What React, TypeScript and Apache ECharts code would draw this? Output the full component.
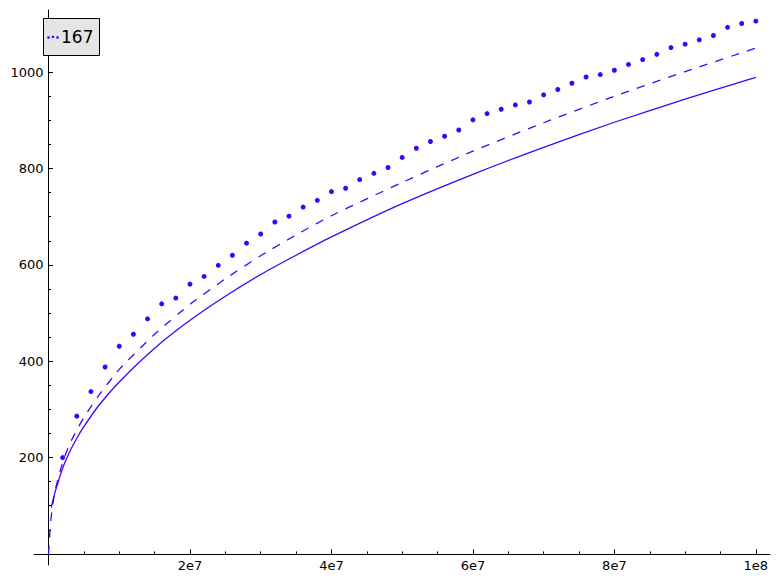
import React, { useEffect, useRef } from "react";
import * as echarts from "echarts";

// Dotted series (legend "167"): sampled every 2e6
const dotX = [
  2e6, 4e6, 6e6, 8e6, 10e6, 12e6, 14e6, 16e6, 18e6, 20e6,
  22e6, 24e6, 26e6, 28e6, 30e6, 32e6, 34e6, 36e6, 38e6, 40e6,
  42e6, 44e6, 46e6, 48e6, 50e6, 52e6, 54e6, 56e6, 58e6, 60e6,
  62e6, 64e6, 66e6, 68e6, 70e6, 72e6, 74e6, 76e6, 78e6, 80e6,
  82e6, 84e6, 86e6, 88e6, 90e6, 92e6, 94e6, 96e6, 98e6, 100e6,
];
const dotY = [
  200, 286, 337, 388, 431, 456, 488, 519, 531, 560,
  576, 599, 620, 645, 664, 689, 701, 720, 734, 752,
  759, 777, 790, 802, 823, 842, 856, 867, 880, 901,
  914, 923, 932, 938, 953, 964, 977, 990, 995, 1004,
  1016, 1026, 1037, 1051, 1058, 1067, 1076, 1093, 1101, 1106,
];

// Solid curve
const solidX = [4e5, 6e5, 1e6, 2e6, 3e6, 4e6, 5e6, 7e6, 1e7, 1.5e7, 2e7, 2.5e7, 3e7, 3.5e7, 4e7, 5e7, 6e7, 7e7, 8e7, 9e7, 1e8];
const solidY = [96, 110, 132, 178, 212, 240, 264, 306, 357, 427, 485, 535, 580, 620, 658, 727, 788, 844, 896, 944, 989];

// Dashed curve
const dashX = [0, 1e5, 3e5, 6e5, 1e6, 2e6, 3e6, 4e6, 5e6, 7e6, 1e7, 1.5e7, 2e7, 2.5e7, 3e7, 3.5e7, 4e7, 5e7, 6e7, 7e7, 8e7, 9e7, 1e8];
const dashY = [0, 22, 66, 102, 136, 190, 228, 257, 283, 327, 383, 456, 518, 571, 619, 662, 702, 771, 836, 895, 950, 1001, 1050];

// Ticks
const xMajor = [2e7, 4e7, 6e7, 8e7, 1e8];
const xMajorLabels = ["2e7", "4e7", "6e7", "8e7", "1e8"];
const xMinor = [5e6, 1e7, 1.5e7, 2.5e7, 3e7, 3.5e7, 4.5e7, 5e7, 5.5e7, 6.5e7, 7e7, 7.5e7, 8.5e7, 9e7, 9.5e7];
const yMajor = [200, 400, 600, 800, 1000];
const yMajorLabels = ["200", "400", "600", "800", "1000"];
const yMinor = [50, 100, 150, 250, 300, 350, 450, 500, 550, 650, 700, 750, 850, 900, 950, 1050, 1100];

const legendLabel = "167";
const COLOR = "#4400ff";
const FONT = "DejaVu Sans";

export default function App() {
  const ref = useRef<HTMLDivElement>(null);
  useEffect(() => {
    if (!ref.current) return;
    const chart = echarts.init(ref.current, null, { renderer: "svg" });
    const xMin = -2.05e6, xMax = 1.02e8, yMin = -23, yMax = 1129;
    const commonX = { type: "value", min: xMin, max: xMax, splitLine: { show: false } };
    const commonY = { type: "value", min: yMin, max: yMax, splitLine: { show: false } };
    chart.setOption({
      animation: false,
      backgroundColor: "#ffffff",
      grid: { left: 34, right: 11, top: 10, bottom: 19, containLabel: false, outerBoundsMode: "none" },
      xAxis: [
        {
          ...commonX,
          position: "bottom",
          axisLine: { show: true, onZero: true, onZeroAxisIndex: 0, lineStyle: { color: "#000", width: 1 } },
          axisTick: { show: true, inside: true, length: 4.5, customValues: xMajor, lineStyle: { color: "#000" } },
          axisLabel: {
            show: true, customValues: xMajor, margin: -6, color: "#000", fontSize: 13, fontFamily: FONT,
            formatter: (v: number) => xMajorLabels[xMajor.indexOf(v)] ?? "",
          },
        },
        {
          ...commonX,
          position: "bottom",
          axisLine: { show: false, onZero: true, onZeroAxisIndex: 0 },
          axisTick: { show: true, inside: true, length: 2.5, customValues: xMinor, lineStyle: { color: "#000" } },
          axisLabel: { show: false },
        },
      ],
      yAxis: [
        {
          ...commonY,
          position: "left",
          axisLine: { show: true, onZero: true, onZeroAxisIndex: 0, lineStyle: { color: "#000", width: 1 } },
          axisTick: { show: true, inside: true, length: 4.5, customValues: yMajor, lineStyle: { color: "#000" } },
          axisLabel: {
            show: true, customValues: yMajor, margin: -9.5, color: "#000", fontSize: 13, fontFamily: FONT,
            formatter: (v: number) => yMajorLabels[yMajor.indexOf(v)] ?? "",
          },
        },
        {
          ...commonY,
          position: "left",
          axisLine: { show: false, onZero: true, onZeroAxisIndex: 0 },
          axisTick: { show: true, inside: true, length: 2.5, customValues: yMinor, lineStyle: { color: "#000" } },
          axisLabel: { show: false },
        },
      ],
      series: [
        {
          type: "line",
          name: "solid",
          data: solidX.map((x, i) => [x, solidY[i]]),
          showSymbol: false,
          smooth: 0.2,
          lineStyle: { color: COLOR, width: 1.3 },
          itemStyle: { color: COLOR },
          z: 2,
        },
        {
          type: "line",
          name: "dashed",
          data: dashX.map((x, i) => [x, dashY[i]]),
          showSymbol: false,
          smooth: 0.2,
          lineStyle: { color: COLOR, width: 1.3, type: [8.3, 8.3] },
          itemStyle: { color: COLOR },
          z: 2,
        },
        {
          type: "scatter",
          name: legendLabel,
          data: dotX.map((x, i) => [x, dotY[i]]),
          symbol: "circle",
          symbolSize: 5,
          itemStyle: { color: COLOR, opacity: 1 },
          z: 3,
        },
      ],
      graphic: [
        {
          type: "rect",
          shape: { x: 43.5, y: 18.5, width: 56, height: 37 },
          style: { fill: "#e5e5e5", stroke: "#000", lineWidth: 1 },
          z: 100,
        },
        { type: "circle", shape: { cx: 48.5, cy: 37.5, r: 1.3 }, style: { fill: COLOR }, z: 101 },
        { type: "circle", shape: { cx: 53, cy: 36.8, r: 1.3 }, style: { fill: COLOR }, z: 101 },
        { type: "circle", shape: { cx: 57.5, cy: 37.5, r: 1.3 }, style: { fill: COLOR }, z: 101 },
        {
          type: "text",
          x: 61,
          y: 36.5,
          style: { text: legendLabel, fontSize: 17, fontFamily: FONT, fill: "#000", verticalAlign: "middle", align: "left" },
          z: 101,
        },
      ],
    });
    return () => chart.dispose();
  }, []);
  return (
    <div
      ref={ref}
      style={{ position: "fixed", left: 0, top: 0, width: 781, height: 584, background: "#fff" }}
    />
  );
}
